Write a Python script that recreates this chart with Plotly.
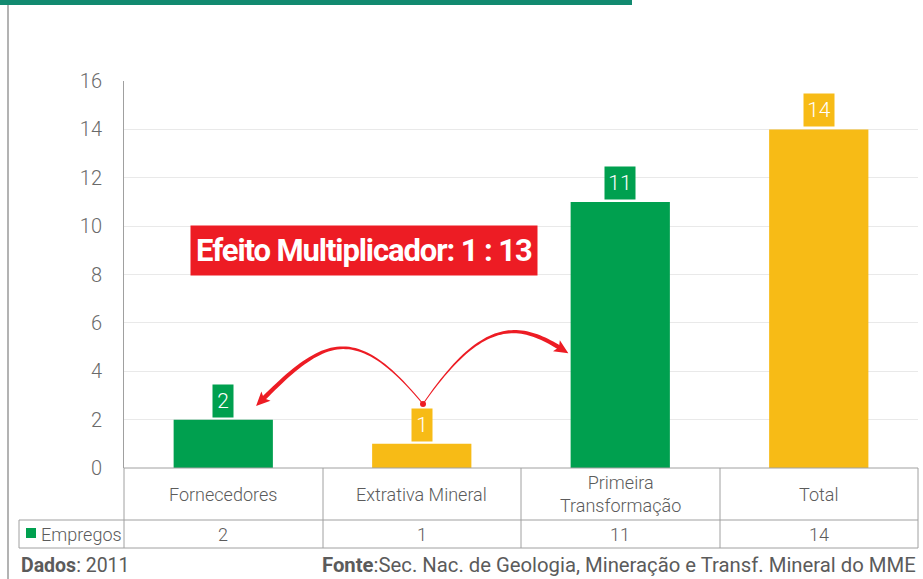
import math
import plotly.graph_objects as go

# ---------------- data ----------------
categories = ["Fornecedores", "Extrativa Mineral", "Primeira<br>Transformação", "Total"]
empregos = [2, 1, 11, 14]
bar_colors = ["#00a04f", "#f7bb16", "#00a04f", "#f7bb16"]
series_name = "Empregos"
y_ticks = [0, 2, 4, 6, 8, 10, 12, 14, 16]
multiplier_text = "Efeito Multiplicador: 1 : 13"
dados_label = "Dados"
dados_value = "2011"
fonte_label = "Fonte"
fonte_value = "Sec. Nac. de Geologia, Mineração e Transf. Mineral do MME"

# ---------------- layout geometry (px) ----------------
W, H = 923, 579
L, R, T, B = 124, 918, 81, 468
FONT = "Roboto, 'Open Sans', sans-serif"
TXT = "#5b5b5b"
LINE = "#a0a0a0"
RED = "#ed1c24"


def pxx(px):
    return (px - L) / (R - L)


def pxy(py):
    return (B - py) / (B - T)


fig = go.Figure()
fig.add_trace(go.Bar(
    x=list(range(len(categories))), y=empregos, marker_color=bar_colors,
    marker_line_width=0, width=0.5, name=series_name, showlegend=False,
    hoverinfo="skip",
))

annotations = []
shapes = []

# value label boxes
for i, v in enumerate(empregos):
    s = str(v)
    annotations.append(dict(
        x=i, y=v, xref="x", yref="y", yanchor="bottom", xanchor="center", yshift=2,
        text=s, showarrow=False, bgcolor=bar_colors[i], borderpad=2,
        width=6 + 10 * len(s), height=28,
        font=dict(family=FONT, size=21, color="white", weight=300),
    ))

# multiplier box
annotations.append(dict(
    x=0.71, y=9, xref="x", yref="y", xanchor="center", yanchor="middle",
    text="<span style='letter-spacing:-1.1px'><b>" + multiplier_text + "</b></span>",
    showarrow=False, bgcolor=RED, width=342, height=45, borderpad=2,
    font=dict(family=FONT, size=31, color="white"),
))


# ---------- curved tapered arrows ----------
def bez(p, t):
    a = (1 - t) ** 3
    b = 3 * (1 - t) ** 2 * t
    c = 3 * (1 - t) * t ** 2
    d = t ** 3
    return (a * p[0][0] + b * p[1][0] + c * p[2][0] + d * p[3][0],
            a * p[0][1] + b * p[1][1] + c * p[2][1] + d * p[3][1])


def bezd(p, t):
    a = 3 * (1 - t) ** 2
    b = 6 * (1 - t) * t
    c = 3 * t ** 2
    return (a * (p[1][0] - p[0][0]) + b * (p[2][0] - p[1][0]) + c * (p[3][0] - p[2][0]),
            a * (p[1][1] - p[0][1]) + b * (p[2][1] - p[1][1]) + c * (p[3][1] - p[2][1]))


def to_path(pts):
    return "M " + " L ".join(f"{pxx(x):.5f},{pxy(y):.5f}" for x, y in pts) + " Z"


def arrow(p, w0, w1, head_len=14, head_w=13):
    n = 48
    left, right = [], []
    for i in range(n + 1):
        t = i / n
        x, y = bez(p, t)
        dx, dy = bezd(p, t)
        ln = math.hypot(dx, dy)
        nx, ny = -dy / ln, dx / ln
        w = w0 + (w1 - w0) * t
        left.append((x + nx * w / 2, y + ny * w / 2))
        right.append((x - nx * w / 2, y - ny * w / 2))
    shapes.append(dict(type="path", xref="paper", yref="paper", path=to_path(left + right[::-1]),
                       fillcolor=RED, line=dict(width=0), layer="above"))
    ex, ey = p[3]
    dx, dy = bezd(p, 1)
    ln = math.hypot(dx, dy)
    ux, uy = dx / ln, dy / ln
    nx, ny = -uy, ux
    tip = (ex + ux * head_len * 0.7, ey + uy * head_len * 0.7)
    bx, by = ex - ux * head_len * 0.3, ey - uy * head_len * 0.3
    c1 = (bx + nx * head_w / 2, by + ny * head_w / 2)
    c2 = (bx - nx * head_w / 2, by - ny * head_w / 2)
    notch = (bx + ux * 3, by + uy * 3)
    shapes.append(dict(type="path", xref="paper", yref="paper", path=to_path([tip, c1, notch, c2]),
                       fillcolor=RED, line=dict(width=0), layer="above"))


start = (423, 404)
arrow([start, (355, 321), (323, 339), (263, 399)], 1.0, 4.5)
arrow([start, (482, 318), (518, 322), (560, 348)], 1.0, 4.5)
shapes.append(dict(type="circle", xref="paper", yref="paper",
                   x0=pxx(start[0] - 3), x1=pxx(start[0] + 3),
                   y0=pxy(start[1] + 3), y1=pxy(start[1] - 3),
                   fillcolor=RED, line=dict(width=0), layer="above"))

# ---------- frame / banner ----------
shapes.append(dict(type="rect", xref="paper", yref="paper", x0=pxx(0), x1=pxx(632), y0=pxy(5), y1=pxy(-2),
                   fillcolor="#128a70", line=dict(width=0)))
shapes.append(dict(type="line", xref="paper", yref="paper", x0=pxx(8), x1=pxx(8), y0=pxy(5), y1=pxy(582),
                   line=dict(color="#9a9a9a", width=1.5)))

# ---------- table ----------
col_edges = [124, 323, 521, 720, 918]


def hline(y, x0, x1):
    shapes.append(dict(type="line", xref="paper", yref="paper", x0=pxx(x0), x1=pxx(x1),
                       y0=pxy(y), y1=pxy(y), line=dict(color=LINE, width=1)))


def vline(x, y0, y1):
    shapes.append(dict(type="line", xref="paper", yref="paper", x0=pxx(x), x1=pxx(x),
                       y0=pxy(y0), y1=pxy(y1), line=dict(color=LINE, width=1)))


hline(468, 124, 918)
hline(520, 19, 918)
hline(548, 19, 918)
for xe in col_edges:
    vline(xe, 468, 548)
vline(19, 520, 548)

TABLE_FONT = dict(family=FONT, size=18, color=TXT, weight=300)
for i, c in enumerate(categories):
    annotations.append(dict(x=i, y=pxy(494), xref="x", yref="paper", xanchor="center", yanchor="middle",
                            text=c, showarrow=False, font=TABLE_FONT))
    annotations.append(dict(x=i, y=pxy(534), xref="x", yref="paper", xanchor="center", yanchor="middle",
                            text=str(empregos[i]), showarrow=False, font=TABLE_FONT))

# legend key in table
shapes.append(dict(type="rect", xref="paper", yref="paper", x0=pxx(26), x1=pxx(36), y0=pxy(538), y1=pxy(528),
                   fillcolor=bar_colors[0], line=dict(width=0)))
annotations.append(dict(x=pxx(39), y=pxy(534), xref="paper", yref="paper", xanchor="left", yanchor="middle",
                        text=series_name, showarrow=False, font=TABLE_FONT))

# footer
annotations.append(dict(x=pxx(19), y=pxy(565), xref="paper", yref="paper", xanchor="left", yanchor="middle",
                        text=f"<b>{dados_label}</b>: {dados_value}", showarrow=False,
                        font=dict(family=FONT, size=19.5, color=TXT)))
annotations.append(dict(x=pxx(918), y=pxy(565), xref="paper", yref="paper", xanchor="right", yanchor="middle",
                        text=f"<b>{fonte_label}</b>:{fonte_value}", showarrow=False,
                        font=dict(family=FONT, size=20.3, color=TXT)))

fig.update_layout(
    width=W, height=H, autosize=False,
    margin=dict(l=L, r=W - R, t=T, b=H - B, pad=0),
    paper_bgcolor="white", plot_bgcolor="white",
    showlegend=False,
    annotations=annotations, shapes=shapes,
    xaxis=dict(range=[-0.5, 3.5], showticklabels=False, showgrid=False, zeroline=False,
               showline=False, fixedrange=True),
    yaxis=dict(range=[0, 16], tickvals=y_ticks, showgrid=True, gridcolor="#e9e9e9", gridwidth=1,
               zeroline=False, showline=True, linecolor=LINE, linewidth=1,
               ticks="", ticklabelstandoff=17,
               tickfont=dict(family=FONT, size=20, color="#6a6a6a", weight=300), fixedrange=True),
    bargap=0.5,
)

fig.write_html("out.html", config={"displayModeBar": False},
               post_script="document.body.style.margin='0';document.body.style.overflow='hidden';")
